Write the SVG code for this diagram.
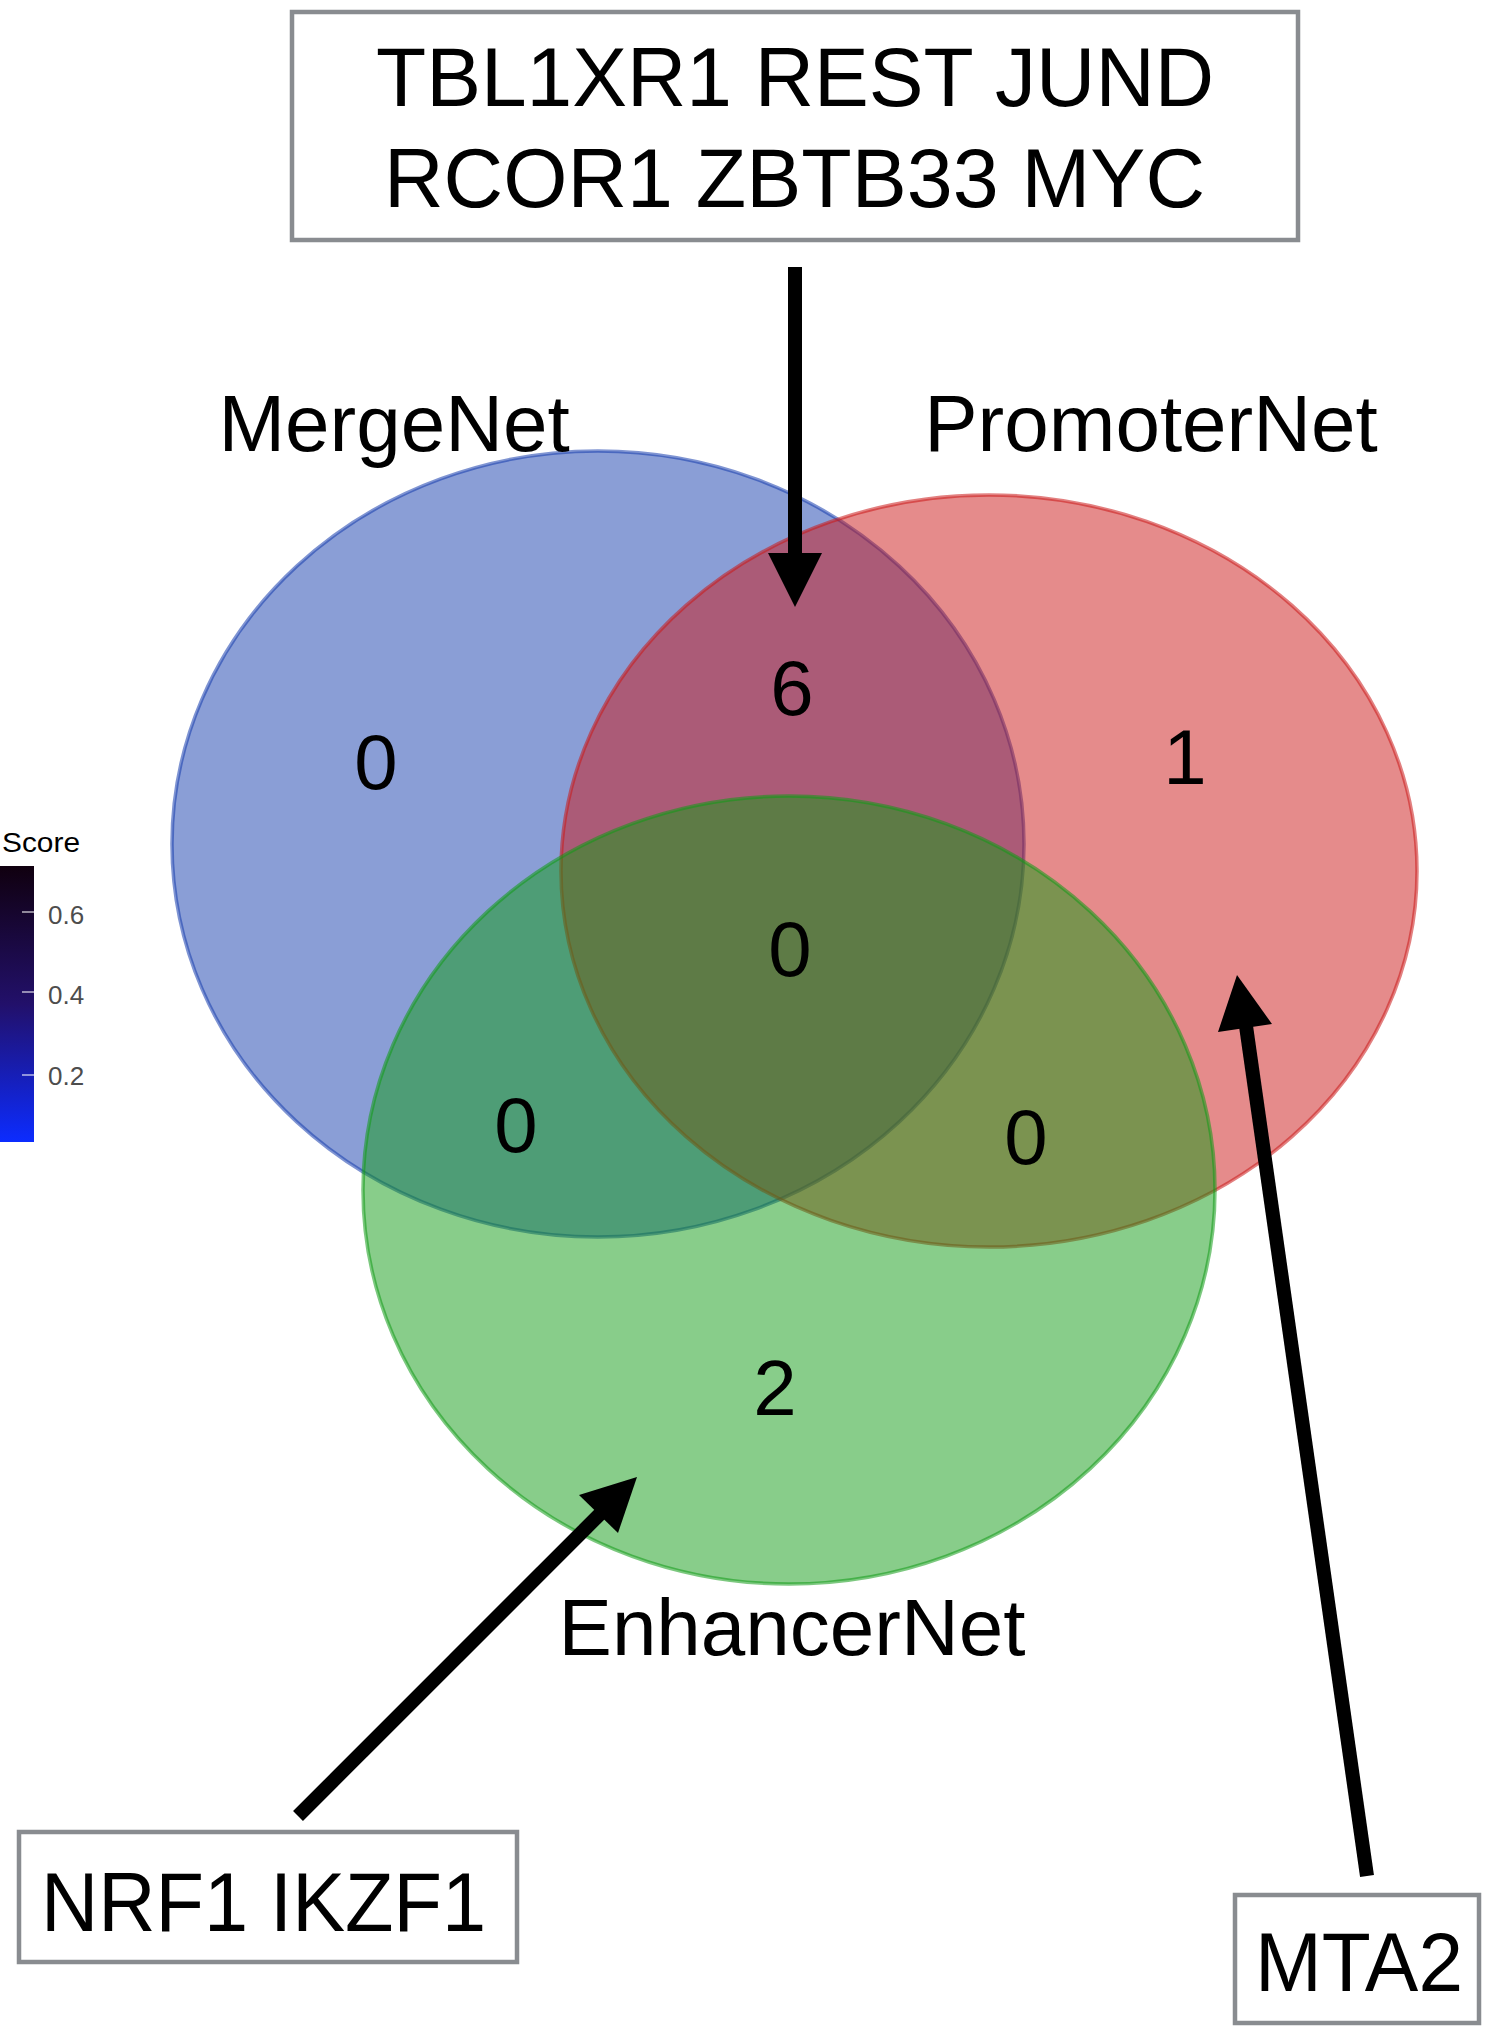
<svg xmlns="http://www.w3.org/2000/svg" width="1485" height="2031" viewBox="0 0 1485 2031">
<style>
.lbl{font-family:"Liberation Sans",Arial,sans-serif;fill:#000;}
.num{font-family:"Liberation Sans",Arial,sans-serif;font-size:78px;fill:#000;text-anchor:middle;}
.set{font-family:"Liberation Sans",Arial,sans-serif;font-size:80px;fill:#000;text-anchor:middle;}
.box{fill:#fff;stroke:#898c90;stroke-width:4.5;}
.boxt{font-family:"Liberation Sans",Arial,sans-serif;font-size:84px;fill:#000;}
.tick{font-family:"Liberation Sans",Arial,sans-serif;font-size:26px;fill:#4d4d4d;}
.shaft{stroke:#000;stroke-width:14;fill:none;}
.head{fill:#000;}
</style>
<defs>
<linearGradient id="cbar" x1="0" y1="0" x2="0" y2="1">
<stop offset="0" stop-color="#10000f"/>
<stop offset="0.5" stop-color="#22106a"/>
<stop offset="1" stop-color="#0c2cff"/>
</linearGradient>
</defs>
<rect width="1485" height="2031" fill="#fff"/>
<g id="legend">
<text class="lbl" x="2" y="852" font-size="28" textLength="78" lengthAdjust="spacingAndGlyphs" fill="#222">Score</text>
<rect x="0" y="866" width="34" height="276" fill="url(#cbar)"/>
<g stroke="#ffffff" stroke-width="1.5" opacity="0.7">
<line x1="22" y1="912" x2="34" y2="912"/>
<line x1="22" y1="992" x2="34" y2="992"/>
<line x1="22" y1="1075" x2="34" y2="1075"/>
</g>
<text class="tick" x="48" y="924">0.6</text>
<text class="tick" x="48" y="1004">0.4</text>
<text class="tick" x="48" y="1085">0.2</text>
</g>
<g id="MergeNet">
<ellipse cx="598" cy="844" rx="426" ry="393" fill="#153dad" fill-opacity="0.5" stroke="#153dad" stroke-opacity="0.55" stroke-width="3.5"/>
<text class="set" x="394" y="451">MergeNet</text>
</g>
<g id="PromoterNet">
<ellipse cx="989" cy="871" rx="428" ry="376" fill="#cb1717" fill-opacity="0.5" stroke="#cb1717" stroke-opacity="0.55" stroke-width="3.5"/>
<text class="set" x="1151" y="451">PromoterNet</text>
</g>
<g id="EnhancerNet">
<ellipse cx="789" cy="1190" rx="426" ry="394" fill="#119b15" fill-opacity="0.5" stroke="#119b15" stroke-opacity="0.55" stroke-width="3.5"/>
<text class="set" x="792" y="1655">EnhancerNet</text>
</g>
<g id="counts">
<text class="num" x="376" y="789">0</text>
<text class="num" x="792" y="715">6</text>
<text class="num" x="1185" y="784">1</text>
<text class="num" x="790" y="976">0</text>
<text class="num" x="516" y="1152">0</text>
<text class="num" x="1026" y="1164">0</text>
<text class="num" x="775" y="1415">2</text>
</g>
<g id="box-top">
<rect class="box" x="292" y="12" width="1006" height="228"/>
<text class="boxt" x="376" y="106" textLength="838" lengthAdjust="spacingAndGlyphs">TBL1XR1 REST JUND</text>
<text class="boxt" x="384" y="207" textLength="821" lengthAdjust="spacingAndGlyphs">RCOR1 ZBTB33 MYC</text>
</g>
<g id="box-left">
<rect class="box" x="19" y="1832" width="498" height="130"/>
<text class="boxt" x="41" y="1931" textLength="445" lengthAdjust="spacingAndGlyphs">NRF1 IKZF1</text>
</g>
<g id="box-right">
<rect class="box" x="1235" y="1895" width="244" height="128"/>
<text class="boxt" x="1255" y="1991" textLength="208" lengthAdjust="spacingAndGlyphs">MTA2</text>
</g>
<g id="connectors">
<line class="shaft" x1="795" y1="267" x2="795" y2="556"/>
<polygon class="head" points="768,553 822,553 795,607"/>
<line class="shaft" x1="298" y1="1816" x2="602" y2="1512"/>
<polygon class="head" points="637,1477 579,1495 618,1533"/>
<line class="shaft" x1="1367" y1="1876" x2="1246" y2="1026"/>
<polygon class="head" points="1237,975 1218,1032 1272,1024"/>
</g>
</svg>
